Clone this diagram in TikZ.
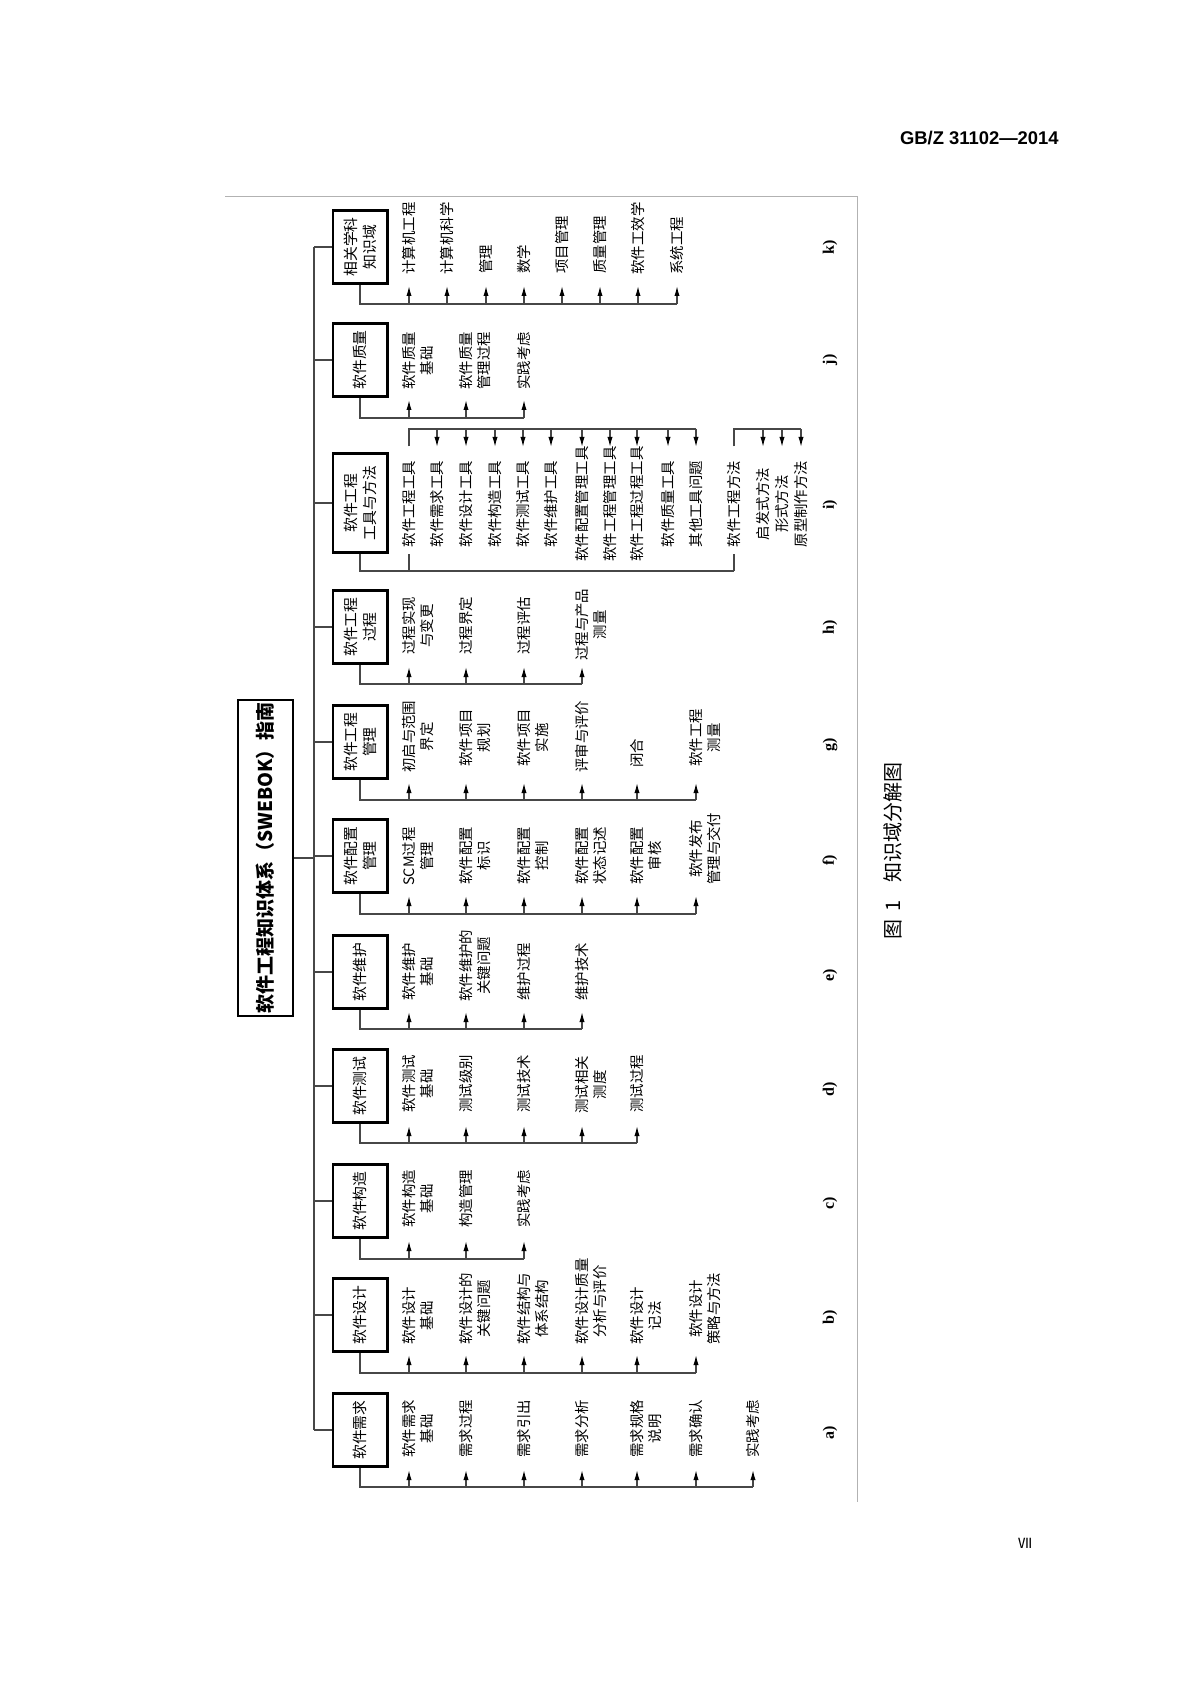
\documentclass[tikz,border=0pt]{standalone}
\usepackage{fontspec}
\setmainfont{Noto Sans CJK SC}
\newfontfamily\serifb{Liberation Serif}
\newfontfamily\sansb{Liberation Sans}
\usetikzlibrary{arrows.meta}
\tikzset{
  ln/.style={line width=0.6pt, draw=black!72},
  arr/.style={ln, -{Latex[length=5pt,width=2.6pt,color=black]}},
  dbox/.style={draw, line width=1.3pt, rotate=90, minimum width=36.7pt, minimum height=27.2pt,
    align=center, inner sep=1pt, font=\fontsize{7.4pt}{9.5pt}\selectfont},
  it/.style={rotate=90, anchor=west, align=center, inner sep=0pt, font=\fontsize{7.2pt}{9pt}\selectfont},
  tbox/.style={draw, line width=0.9pt, rotate=90, minimum width=151pt, minimum height=27.6pt,
    inner sep=1pt, font=\fontsize{9.5pt}{11pt}\selectfont\bfseries},
  lab/.style={rotate=90, inner sep=0pt, font=\serifb\bfseries\fontsize{8pt}{9pt}\selectfont},
  pframe/.style={draw=black!30, line width=0.5pt}
}
\newcommand\leaf[7]{%
  \coordinate (#1) at (#2,#4);
  \coordinate (#1b) at (#2,#3);
  \node[it] (#1t) at ({#2+#5},#6) {#7};
  \draw[arr] (#1b) -- (#1);
}
\begin{document}
\begin{tikzpicture}[x=0.5pt,y=-0.5pt]
\path[fill=white,use as bounding box] (0,0) rectangle (1191,1684);

% header and page number
\node[anchor=east, inner sep=0pt, font=\sansb\bfseries\fontsize{9.2pt}{10pt}\selectfont] (hdr) at (1059,138) {GB/Z 31102—2014};
\node[inner sep=0pt, font=\fontsize{7pt}{8pt}\selectfont] (pg) at (1025,1543) {Ⅶ};

% page frame lines
\coordinate (fa) at (225,197);
\coordinate (fb) at (857,197);
\coordinate (fc) at (857,1502);
\draw[pframe] (fa) -- (fb) -- (fc);

% title
\node[tbox] (T) at (265.5,858) {软件工程知识体系（SWEBOK）指南};

% spine
\coordinate (spT) at (314,247);
\coordinate (spB) at (314,1430);
\draw[ln] (spT) -- (spB);
\draw[ln] (T.south) -- (T.south -| spT);

% domain boxes
\node[dbox] (K) at (360,247) {相关学科\\知识域};
\node[dbox] (J) at (360,360) {软件质量};
\node[dbox, minimum width=49.7pt] (I) at (360,503) {软件工程\\工具与方法};
\node[dbox] (H) at (360,627) {软件工程\\过程};
\node[dbox] (G) at (360,742) {软件工程\\管理};
\node[dbox] (F) at (360,856) {软件配置\\管理};
\node[dbox] (E) at (360,972) {软件维护};
\node[dbox] (D) at (360,1086) {软件测试};
\node[dbox] (C) at (360,1201) {软件构造};
\node[dbox] (B) at (360,1315) {软件设计};
\node[dbox] (A) at (360,1430) {软件需求};
\foreach \b in {K,J,I,H,G,F,E,D,C,B,A} \draw[ln] (\b.north -| spT) -- (\b.north);

% labels
\node[lab] (lk) at (830,247) {k)};
\node[lab] (lj) at (830,360) {j)};
\node[lab] (li) at (830,505) {i)};
\node[lab] (lh) at (830,627) {h)};
\node[lab] (lg) at (830,745) {g)};
\node[lab] (lf) at (830,860) {f)};
\node[lab] (le) at (830,975) {e)};
\node[lab] (ld) at (830,1089) {d)};
\node[lab] (lc) at (830,1203) {c)};
\node[lab] (lb) at (830,1317) {b)};
\node[lab] (la) at (830,1433) {a)};

% caption
\node[rotate=90, anchor=west, inner sep=0pt, font=\fontsize{10pt}{11pt}\selectfont] (cap) at (893,940) {图\hspace{4pt}1\hspace{9pt}知识域分解图};

% k
\leaf{k1}{409}{304}{286}{0}{275}{计算机工程}
\leaf{k2}{447}{304}{286}{0}{275}{计算机科学}
\leaf{k3}{486}{304}{286}{0}{274}{管理}
\leaf{k4}{524}{304}{286}{0}{274}{数学}
\leaf{k5}{562}{304}{286}{0}{274}{项目管理}
\leaf{k6}{600}{304}{286}{0}{274}{质量管理}
\leaf{k7}{638}{304}{286}{0}{275}{软件工效学}
\leaf{k8}{677}{304}{286}{0}{275}{系统工程}
\draw[ln] (K.west) |- (k8b);

% j
\leaf{j1}{409}{418}{400}{9}{390}{软件质量\\基础}
\leaf{j2}{466}{418}{400}{9}{390}{软件质量\\管理过程}
\leaf{j3}{524}{418}{400}{0}{390}{实践考虑}
\draw[ln] (J.west) |- (j3b);

% i
\coordinate (iup) at (409,429);
\coordinate (itip) at (409,447);
\coordinate (ilow) at (409,571);
\node[it, anchor=center] (t1) at (409,504) {软件工程工具};
\node[it, anchor=center] (t2) at (437,504) {软件需求工具};
\node[it, anchor=center] (t3) at (466,504) {软件设计工具};
\node[it, anchor=center] (t4) at (495,504) {软件构造工具};
\node[it, anchor=center] (t5) at (523,504) {软件测试工具};
\node[it, anchor=center] (t6) at (551,504) {软件维护工具};
\node[it, anchor=center] (t7) at (582,504) {软件配置管理工具};
\node[it, anchor=center] (t8) at (610,504) {软件工程管理工具};
\node[it, anchor=center] (t9) at (637,504) {软件工程过程工具};
\node[it, anchor=center] (t10) at (668,504) {软件质量工具};
\node[it, anchor=center] (t11) at (696,504) {其他工具问题};
\node[it, anchor=center] (m0) at (734,504) {软件工程方法};
\node[it, anchor=center] (m1) at (763,504) {启发式方法};
\node[it, anchor=center] (m2) at (782,504) {形式方法};
\node[it, anchor=center] (m3) at (801,504) {原型制作方法};
\draw[ln] (I.west) |- (m0 |- ilow);
\draw[ln, shorten >=3pt] (t1 |- ilow) -- (t1.west);
\draw[ln, shorten >=3pt] (m0 |- ilow) -- (m0.west);
\draw[ln, shorten <=7pt] (t1.east) -- (t1 |- iup) -- (t11 |- iup);
\foreach \k in {2,...,11} \draw[arr] (t\k |- iup) -- (t\k |- itip);
\draw[ln, shorten <=7pt] (m0.east) -- (m0 |- iup) -- (m3 |- iup);
\foreach \k in {1,2,3} \draw[arr] (m\k |- iup) -- (m\k |- itip);

% h
\leaf{h1}{409}{684}{667}{9}{655}{过程实现\\与变更}
\leaf{h2}{466}{684}{667}{0}{655}{过程界定}
\leaf{h3}{524}{684}{667}{0}{655}{过程评估}
\leaf{h4}{582}{684}{667}{9}{661}{过程与产品\\测量}
\draw[ln] (H.west) |- (h4b);

% g
\leaf{g1}{409}{800}{783}{9}{773}{初启与范围\\界定}
\leaf{g2}{466}{800}{783}{9}{767}{软件项目\\规划}
\leaf{g3}{524}{800}{783}{9}{767}{软件项目\\实施}
\leaf{g4}{582}{800}{783}{0}{773}{评审与评价}
\leaf{g5}{637}{800}{783}{0}{768}{闭合}
\leaf{g6}{696}{800}{783}{9}{767}{软件工程\\测量}
\draw[ln] (G.west) |- (g6b);

% f
\leaf{f1}{409}{914}{896}{9}{886}{SCM过程\\管理}
\leaf{f2}{466}{914}{896}{9}{885}{软件配置\\标识}
\leaf{f3}{524}{914}{896}{9}{885}{软件配置\\控制}
\leaf{f4}{582}{914}{896}{9}{885}{软件配置\\状态记述}
\leaf{f5}{637}{914}{896}{9}{885}{软件配置\\审核}
\leaf{f6}{696}{914}{896}{9}{885}{软件发布\\管理与交付}
\draw[ln] (F.west) |- (f6b);

% e
\leaf{e1}{409}{1029}{1012}{9}{1001}{软件维护\\基础}
\leaf{e2}{466}{1029}{1012}{9}{1002}{软件维护的\\关键问题}
\leaf{e3}{524}{1029}{1012}{0}{1001}{维护过程}
\leaf{e4}{582}{1029}{1012}{0}{1001}{维护技术}
\draw[ln] (E.west) |- (e4b);

% d
\leaf{d1}{409}{1143}{1126}{9}{1113}{软件测试\\基础}
\leaf{d2}{466}{1143}{1126}{0}{1113}{测试级别}
\leaf{d3}{524}{1143}{1126}{0}{1113}{测试技术}
\leaf{d4}{582}{1143}{1126}{9}{1114}{测试相关\\测度}
\leaf{d5}{637}{1143}{1126}{0}{1113}{测试过程}
\draw[ln] (D.west) |- (d5b);

% c
\leaf{c1}{409}{1259}{1241}{9}{1228}{软件构造\\基础}
\leaf{c2}{466}{1259}{1241}{0}{1228}{构造管理}
\leaf{c3}{524}{1259}{1241}{0}{1228}{实践考虑}
\draw[ln] (C.west) |- (c3b);

% b
\leaf{b1}{409}{1373}{1355}{9}{1345}{软件设计\\基础}
\leaf{b2}{466}{1373}{1355}{9}{1345}{软件设计的\\关键问题}
\leaf{b3}{524}{1373}{1355}{9}{1345}{软件结构与\\体系结构}
\leaf{b4}{582}{1373}{1355}{9}{1345}{软件设计质量\\分析与评价}
\leaf{b5}{637}{1373}{1355}{9}{1345}{软件设计\\记法}
\leaf{b6}{696}{1373}{1355}{9}{1345}{软件设计\\策略与方法}
\draw[ln] (B.west) |- (b6b);

% a
\leaf{a1}{409}{1487}{1470}{9}{1458}{软件需求\\基础}
\leaf{a2}{466}{1487}{1470}{0}{1458}{需求过程}
\leaf{a3}{524}{1487}{1470}{0}{1458}{需求引出}
\leaf{a4}{582}{1487}{1470}{0}{1458}{需求分析}
\leaf{a5}{637}{1487}{1470}{9}{1458}{需求规格\\说明}
\leaf{a6}{696}{1487}{1470}{0}{1458}{需求确认}
\leaf{a7}{753}{1487}{1470}{0}{1458}{实践考虑}
\draw[ln] (A.west) |- (a7b);
\end{tikzpicture}
\end{document}
